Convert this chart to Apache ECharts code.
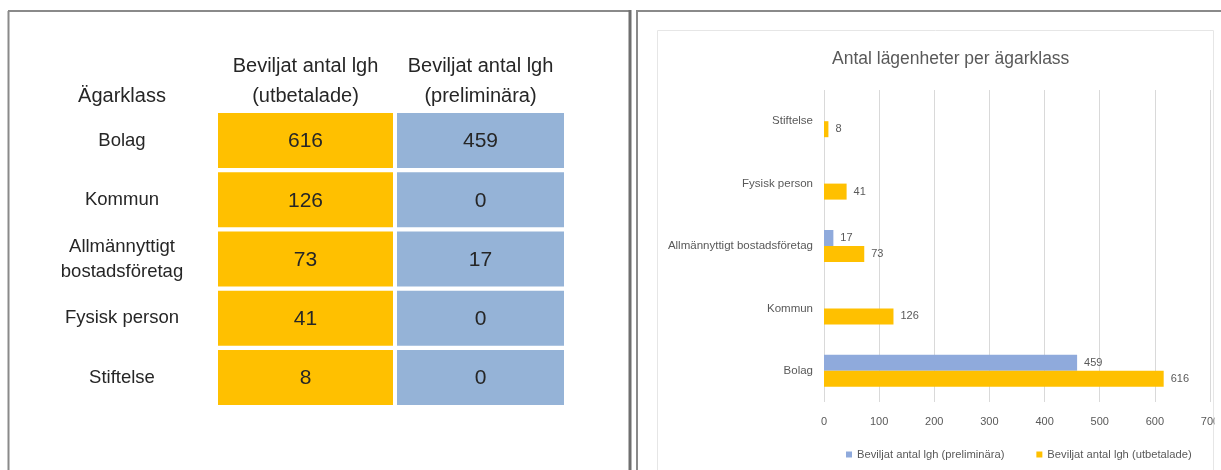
<!DOCTYPE html>
<html>
<head>
<meta charset="utf-8">
<title>Antal lägenheter per ägarklass</title>
<script src="https://cdn.jsdelivr.net/npm/echarts@6/dist/echarts.min.js"></script>
<style>
  html, body { margin: 0; padding: 0; background: #fff; }
  #chart { width: 1221px; height: 470px; }
</style>
</head>
<body>
<div id="chart"></div>
<script>
// categories, bottom to top in the bar chart, top to bottom in the table
const categories = ['Bolag', 'Kommun', 'Allmännyttigt bostadsföretag', 'Fysisk person', 'Stiftelse']
const tableLabels = ['Bolag', 'Kommun', 'Allmännyttigt\nbostadsföretag', 'Fysisk person', 'Stiftelse']
const tableHeaders = ['Ägarklass', 'Beviljat antal lgh\n(utbetalade)', 'Beviljat antal lgh\n(preliminära)']
const utbetalade = [616, 126, 73, 41, 8]
const preliminara = [459, 0, 17, 0, 0]
const seriesNames = ['Beviljat antal lgh (preliminära)', 'Beviljat antal lgh (utbetalade)']
const xTicks = [0, 100, 200, 300, 400, 500, 600, 700]

const ORANGE = '#FFC000'
const BLUE_TABLE = '#95B3D7'
const BLUE_CHART = '#8FAADC'
const TEXT = '#595959'
const FRAME = '#8a8a8a'

const chart = echarts.init(document.getElementById('chart'))

// table built from the arrays above
const colCenter = [122, 305.5, 480.5]
const cellCols = [{ x: 218, w: 175, fill: ORANGE, data: utbetalade }, { x: 397, w: 167, fill: BLUE_TABLE, data: preliminara }]
const rowTop = 113
const rowStep = 59.25
const rowH = 55

const graphics = []

// frames round the two panels
const line = (x1, y1, x2, y2, color, w) => ({
  type: 'line',
  silent: true,
  shape: { x1, y1, x2, y2 },
  style: { stroke: color, lineWidth: w }
})
graphics.push(line(8.5, 11, 8.5, 470, FRAME, 2))
graphics.push(line(8, 11, 631, 11, FRAME, 2))
graphics.push(line(630, 10, 630, 470, '#6f6f6f', 3))
graphics.push(line(637, 10, 637, 470, FRAME, 2))
graphics.push(line(636, 11, 1221, 11, FRAME, 2))
// light chart area frame
graphics.push({
  type: 'rect',
  silent: true,
  shape: { x: 657.5, y: 30.5, width: 556, height: 460 },
  style: { fill: null, stroke: '#e6e6e6', lineWidth: 1 }
})
// the pasted chart picture is cut off at its right edge
graphics.push({
  type: 'rect',
  silent: true,
  z: 100,
  shape: { x: 1214.5, y: 40, width: 10, height: 430 },
  style: { fill: '#fff' }
})

tableHeaders.forEach((h, i) => {
  graphics.push({
    type: 'text',
    silent: true,
    x: colCenter[i],
    y: 111,
    style: {
      text: h,
      fill: '#262626',
      font: '20px "Liberation Sans", Arial, sans-serif',
      align: 'center',
      verticalAlign: 'bottom',
      lineHeight: 30
    }
  })
})

tableLabels.forEach((label, r) => {
  const top = rowTop + r * rowStep
  graphics.push({
    type: 'text',
    silent: true,
    x: colCenter[0],
    y: top + rowH / 2,
    style: {
      text: label,
      fill: '#262626',
      font: '18.5px "Liberation Sans", Arial, sans-serif',
      align: 'center',
      verticalAlign: 'middle',
      lineHeight: 25
    }
  })
  cellCols.forEach((c, ci) => {
    graphics.push({
      type: 'rect',
      silent: true,
      shape: { x: c.x, y: top, width: c.w, height: rowH },
      style: { fill: c.fill }
    })
    graphics.push({
      type: 'text',
      silent: true,
      x: colCenter[ci + 1],
      y: top + rowH / 2 + 1,
      style: {
        text: String(c.data[r]),
        fill: '#262626',
        font: '21px "Liberation Sans", Arial, sans-serif',
        align: 'center',
        verticalAlign: 'middle'
      }
    })
  })
})

const hideZero = p => (p.value ? String(p.value) : '')

const option = {
  backgroundColor: '#fff',
  animation: false,
  textStyle: { fontFamily: '"Liberation Sans", "Open Sans", sans-serif' },
  title: {
    text: 'Antal lägenheter per ägarklass',
    left: 827,
    top: 45,
    textStyle: { fontSize: 17.5, fontWeight: 'normal', color: TEXT }
  },
  legend: {
    data: seriesNames,
    left: 841,
    top: 444,
    icon: 'rect',
    itemWidth: 6,
    itemHeight: 6,
    itemGap: 32,
    textStyle: { fontSize: 11.2, color: TEXT }
  },
  grid: {
    left: 824,
    right: 11,
    top: 90,
    bottom: 68,
    containLabel: false,
    outerBoundsMode: 'none'
  },
  xAxis: {
    type: 'value',
    min: xTicks[0],
    max: xTicks[xTicks.length - 1],
    interval: 100,
    axisLine: { show: false },
    axisTick: { show: false },
    axisLabel: { color: TEXT, fontSize: 11, margin: 14 },
    splitLine: { show: true, lineStyle: { color: '#d9d9d9', width: 1 } }
  },
  yAxis: {
    type: 'category',
    data: categories,
    axisLine: { show: false },
    axisTick: { show: false },
    axisLabel: { color: TEXT, fontSize: 11.5, margin: 11 }
  },
  series: [
    {
      name: seriesNames[0],
      type: 'bar',
      data: preliminara,
      barWidth: 16,
      barGap: '0%',
      itemStyle: { color: BLUE_CHART },
      label: { show: true, position: 'right', distance: 7, fontSize: 11, color: TEXT, formatter: hideZero }
    },
    {
      name: seriesNames[1],
      type: 'bar',
      data: utbetalade,
      barWidth: 16,
      barGap: '0%',
      itemStyle: { color: ORANGE },
      label: { show: true, position: 'right', distance: 7, fontSize: 11, color: TEXT, formatter: hideZero }
    }
  ],
  graphic: graphics
}

chart.setOption(option)
</script>
</body>
</html>
